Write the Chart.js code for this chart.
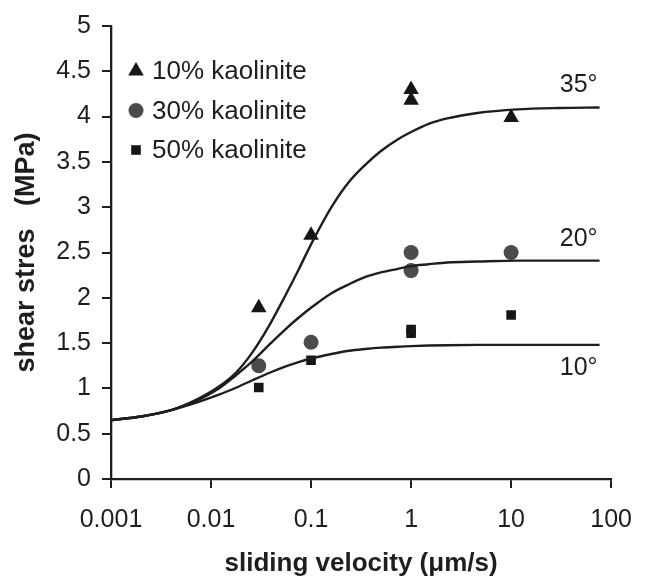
<!DOCTYPE html>
<html>
<head>
<meta charset="utf-8">
<script src="https://cdn.jsdelivr.net/npm/chart.js@4/dist/chart.umd.min.js"></script>
<style>
  html, body { margin: 0; padding: 0; background: #fff; }
  #wrap { width: 649px; height: 578px; }
</style>
</head>
<body>
<div id="wrap"><canvas id="c" width="649" height="578"></canvas></div>
<script>
// ---- data ----
const xTickValues = [0.001, 0.01, 0.1, 1, 10, 100];
const xTickLabels = ['0.001', '0.01', '0.1', '1', '10', '100'];
const yTickLabels = ['0', '0.5', '1', '1.5', '2', '2.5', '3', '3.5', '4', '4.5', '5'];

const curveX  = [0.001, 0.002, 0.004, 0.007, 0.012, 0.018, 0.026, 0.038, 0.055, 0.075, 0.1, 0.16, 0.24, 0.35, 0.5, 0.74, 1, 1.5, 2.3, 4.6, 11.5, 30, 76.6];
const curve35 = [0.65, 0.69, 0.76, 0.87, 1.02, 1.18, 1.40, 1.69, 2.02, 2.31, 2.59, 3.00, 3.28, 3.47, 3.62, 3.75, 3.83, 3.92, 3.98, 4.04, 4.08, 4.095, 4.10];
const curve20 = [0.65, 0.69, 0.76, 0.86, 1.00, 1.15, 1.30, 1.48, 1.65, 1.78, 1.89, 2.05, 2.15, 2.23, 2.28, 2.32, 2.35, 2.37, 2.39, 2.40, 2.41, 2.41, 2.41];
const curve10 = [0.65, 0.69, 0.76, 0.84, 0.93, 1.01, 1.09, 1.17, 1.24, 1.29, 1.33, 1.38, 1.415, 1.435, 1.45, 1.46, 1.467, 1.473, 1.477, 1.48, 1.48, 1.48, 1.48];
const curveLabels = ['35°', '20°', '10°'];

const seriesNames = ['10% kaolinite', '30% kaolinite', '50% kaolinite'];
const k10X = [0.03, 0.1, 1, 1, 10];
const k10Y = [1.89, 2.69, 4.30, 4.18, 3.99];
const k30X = [0.03, 0.1, 1, 1, 10];
const k30Y = [1.25, 1.51, 2.50, 2.30, 2.50];
const k50X = [0.03, 0.1, 1, 1, 10];
const k50Y = [1.01, 1.31, 1.65, 1.61, 1.81];

// ---- build ----
const FONT = "'Liberation Sans', Arial, Helvetica, sans-serif";
const INK = '#1e1e1e';
const pts = (xs, ys) => xs.map((x, i) => ({ x: x, y: ys[i] }));

const curveStyle = {
  type: 'line', showLine: true, pointRadius: 0, pointHoverRadius: 0,
  borderColor: INK, borderWidth: 2.4, fill: false,
  cubicInterpolationMode: 'monotone', isCurve: true
};

const datasets = [
  Object.assign({ label: curveLabels[0], data: pts(curveX, curve35), labelBelow: false }, curveStyle),
  Object.assign({ label: curveLabels[1], data: pts(curveX, curve20), labelBelow: false }, curveStyle),
  Object.assign({ label: curveLabels[2], data: pts(curveX, curve10), labelBelow: true }, curveStyle),
  { type: 'scatter', label: seriesNames[0], data: pts(k10X, k10Y), pointStyle: 'triangle', pointRadius: 9,
    backgroundColor: '#161616', borderWidth: 0, isSeries: true },
  { type: 'scatter', label: seriesNames[1], data: pts(k30X, k30Y), pointStyle: 'circle', pointRadius: 7.5,
    backgroundColor: '#4b4b4d', borderWidth: 0, isSeries: true },
  { type: 'scatter', label: seriesNames[2], data: pts(k50X, k50Y), pointStyle: 'rect', pointRadius: 6.8,
    backgroundColor: '#161616', borderWidth: 0, isSeries: true }
];

const annotate = {
  id: 'annotate',
  afterDatasetsDraw(chart) {
    const ctx = chart.ctx;
    ctx.save();
    // curve end labels
    ctx.fillStyle = INK;
    ctx.font = '25px ' + FONT;
    ctx.textAlign = 'right';
    ctx.textBaseline = 'middle';
    chart.data.datasets.forEach((ds, i) => {
      if (!ds.isCurve) return;
      const meta = chart.getDatasetMeta(i);
      const last = meta.data[meta.data.length - 1];
      const y = ds.labelBelow ? last.y + 23 : last.y - 22;
      ctx.fillText(ds.label, last.x - 2, y);
    });
    // legend
    const lx = 136, ly0 = 71, step = 39.5;
    ctx.font = '26px ' + FONT;
    ctx.textAlign = 'left';
    let row = 0;
    chart.data.datasets.forEach((ds) => {
      if (!ds.isSeries) return;
      const y = ly0 + row * step;
      const r = ds.pointStyle === 'triangle' ? 9 : ds.pointStyle === 'circle' ? 7.5 : 6.8;
      ctx.fillStyle = ds.backgroundColor;
      ctx.beginPath();
      if (ds.pointStyle === 'triangle') {
        ctx.moveTo(lx, y - r); ctx.lineTo(lx + r * 0.866, y + r * 0.5); ctx.lineTo(lx - r * 0.866, y + r * 0.5);
      } else if (ds.pointStyle === 'circle') {
        ctx.arc(lx, y, r, 0, Math.PI * 2);
      } else {
        const s = r * Math.SQRT1_2; ctx.rect(lx - s, y - s, 2 * s, 2 * s);
      }
      ctx.closePath(); ctx.fill();
      ctx.fillStyle = INK;
      ctx.fillText(ds.label, lx + 16, y + 1);
      row++;
    });
    ctx.restore();
  }
};

new Chart(document.getElementById('c'), {
  type: 'scatter',
  data: { datasets: datasets },
  options: {
    responsive: false,
    animation: false,
    layout: { padding: { top: 24, right: 34, bottom: 0, left: 0 } },
    plugins: { legend: { display: false }, tooltip: { enabled: false } },
    scales: {
      x: {
        type: 'logarithmic', min: 0.001, max: 100, position: 'bottom',
        afterBuildTicks: (s) => { s.ticks = xTickValues.map(v => ({ value: v })); },
        afterFit: (s) => { s.height = 99; },
        ticks: {
          autoSkip: false, maxRotation: 0, padding: 17, color: INK,
          font: { family: FONT, size: 25 },
          callback: (v) => { const i = xTickValues.indexOf(v); return i >= 0 ? xTickLabels[i] : ''; }
        },
        grid: { drawOnChartArea: false, drawTicks: true, tickLength: 9, color: INK, lineWidth: 2 },
        border: { display: true, color: INK, width: 2.3 },
        title: { display: true, text: 'sliding velocity (μm/s)', color: INK,
                 font: { family: FONT, size: 26, weight: 'bold', lineHeight: 1 }, padding: { top: 0, bottom: 1 } }
      },
      y: {
        type: 'linear', min: 0, max: 5,
        afterFit: (s) => { s.width = 111; },
        ticks: {
          stepSize: 0.5, padding: 11, color: INK,
          font: { family: FONT, size: 25 },
          callback: (v, i) => yTickLabels[i]
        },
        grid: { drawOnChartArea: false, drawTicks: true, tickLength: 9, color: INK, lineWidth: 2 },
        border: { display: true, color: INK, width: 2.3 },
        title: { display: true, text: 'shear stres   (MPa)', color: INK,
                 font: { family: FONT, size: 27, weight: 'bold', lineHeight: 1 }, padding: { top: 13, bottom: 0 } }
      }
    }
  },
  plugins: [annotate]
});
</script>
</body>
</html>
